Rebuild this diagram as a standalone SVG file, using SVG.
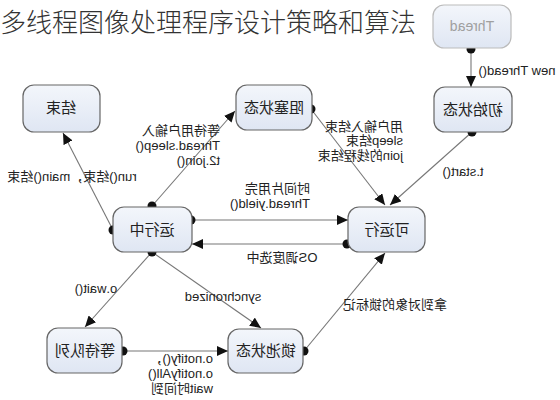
<svg xmlns="http://www.w3.org/2000/svg" width="560" height="400" viewBox="0 0 560 400">
<defs>
<linearGradient id="g" x1="0" y1="0" x2="0" y2="1">
<stop offset="0" stop-color="#f3f6fb"/>
<stop offset="1" stop-color="#dfe6f3"/>
</linearGradient>
<marker id="ah" markerUnits="userSpaceOnUse" markerWidth="12" markerHeight="10" refX="11" refY="5" orient="auto">
<path d="M0,0 L11,5 L0,10 Z" fill="#111"/>
</marker>
<style>
.n rect{fill:url(#g);stroke:#666;stroke-width:1.2}
.n text{font-family:"Liberation Sans","Noto Sans CJK SC",sans-serif;font-size:15px;fill:#222;text-anchor:middle}
.faint rect{stroke:#bbb}
.faint text{fill:#a0a0a0;font-size:14px}
.c line{stroke:#777;stroke-width:1.1}
.c .a{marker-end:url(#ah)}
.c circle{fill:#111}
.lb{font-family:"Liberation Sans","Noto Sans CJK SC",sans-serif;font-size:13px;fill:#222}
.title{font-family:"Noto Sans CJK SC",sans-serif;font-size:26px;font-weight:300;fill:#333}
</style>
</defs>
<rect width="560" height="400" fill="#fff"/>
<text class="title" x="0" y="32">多线程图像处理程序设计策略和算法</text>

<g class="c" id="connectors">
<line class="a" x1="471" y1="49" x2="471" y2="87"/>
<line class="a" x1="472" y1="132" x2="390" y2="205"/>
<line class="a" x1="311" y1="109" x2="385" y2="205"/>
<line class="a" x1="152" y1="206" x2="235" y2="111"/>
<line class="a" x1="113" y1="230" x2="63" y2="133"/>
<line class="a" x1="191" y1="220" x2="348" y2="220"/>
<line class="a" x1="347" y1="244" x2="192" y2="244"/>
<line class="a" x1="152" y1="252" x2="85" y2="327"/>
<line class="a" x1="152" y1="252" x2="261" y2="328"/>
<line class="a" x1="123" y1="351" x2="228" y2="351"/>
<line class="a" x1="304" y1="351" x2="385" y2="253"/>
<circle cx="471" cy="49" r="4.5"/>
<circle cx="472" cy="132" r="4.5"/>
<circle cx="311" cy="109" r="4.5"/>
<circle cx="152" cy="206" r="4.5"/>
<circle cx="113" cy="230" r="4.5"/>
<circle cx="191" cy="220" r="4.5"/>
<circle cx="347" cy="244" r="4.5"/>
<circle cx="152" cy="252" r="4.5"/>
<circle cx="123" cy="351" r="4.5"/>
<circle cx="304" cy="351" r="4.5"/>
</g>

<g id="labels">
<text class="lb" transform="translate(517,75) scale(-1,1)" text-anchor="middle">new Thread()</text>
<text class="lb" transform="translate(463,176) scale(-1,1)" text-anchor="middle">t.start()</text>
<text class="lb" transform="translate(403,131) scale(-1,1)">用户输入结束</text>
<text class="lb" transform="translate(403,145) scale(-1,1)">sleep结束</text>
<text class="lb" transform="translate(403,160) scale(-1,1)">join的线程结束</text>
<text class="lb" transform="translate(220,135) scale(-1,1)">等待用户输入</text>
<text class="lb" transform="translate(220,150) scale(-1,1)">Thread.sleep()</text>
<text class="lb" transform="translate(220,165) scale(-1,1)">t2.join()</text>
<text class="lb" transform="translate(72,181) scale(-1,1)" text-anchor="middle">run()结束，main()结束</text>
<text class="lb" transform="translate(310,193) scale(-1,1)">时间片用完</text>
<text class="lb" transform="translate(310,208) scale(-1,1)">Thread.yield()</text>
<text class="lb" transform="translate(282,262) scale(-1,1)" text-anchor="middle">OS调度选中</text>
<text class="lb" transform="translate(96,293) scale(-1,1)" text-anchor="middle">o.wait()</text>
<text class="lb" transform="translate(223,301) scale(-1,1)" text-anchor="middle">synchronized</text>
<text class="lb" transform="translate(395,309) scale(-1,1)" text-anchor="middle">拿到对象的锁标记</text>
<text class="lb" transform="translate(213,363) scale(-1,1)">o.notify()，</text>
<text class="lb" transform="translate(213,378) scale(-1,1)">o.notifyAll()</text>
<text class="lb" transform="translate(213,393) scale(-1,1)">wait时间到</text>
</g>

<g class="n faint" id="thread"><rect x="433" y="5" width="78" height="43" rx="11"/><text transform="translate(472,31) scale(-1,1)">Thread</text></g>
<g class="n" id="init"><rect x="434" y="87" width="78" height="45" rx="11"/><text transform="translate(473,115) scale(-1,1)">初始状态</text></g>
<g class="n" id="end"><rect x="23" y="85" width="77" height="47" rx="11"/><text transform="translate(61,113) scale(-1,1)">结束</text></g>
<g class="n" id="blocked"><rect x="236" y="85" width="76" height="45" rx="11"/><text transform="translate(274,113) scale(-1,1)">阻塞状态</text></g>
<g class="n" id="running"><rect x="113" y="207" width="79" height="45" rx="11"/><text transform="translate(152,235) scale(-1,1)">运行中</text></g>
<g class="n" id="runnable"><rect x="348" y="207" width="77" height="45" rx="11"/><text transform="translate(387,235) scale(-1,1)">可运行</text></g>
<g class="n" id="waitq"><rect x="47" y="328" width="75" height="45" rx="11"/><text transform="translate(85,356) scale(-1,1)">等待队列</text></g>
<g class="n" id="lockpool"><rect x="228" y="329" width="75" height="44" rx="11"/><text transform="translate(266,356) scale(-1,1)">锁池状态</text></g>
</svg>
